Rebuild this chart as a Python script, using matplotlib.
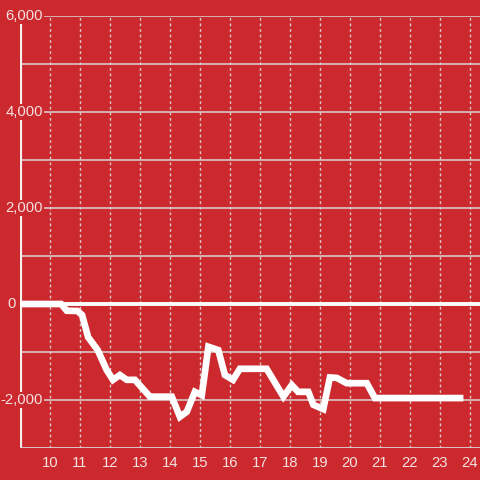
import matplotlib
matplotlib.use("Agg")
import matplotlib.pyplot as plt

# values (hour of day, running total)
hours = [9.0, 10.37, 10.56, 10.92, 11.07, 11.27, 11.59, 11.89, 12.1, 12.33,
         12.56, 12.83, 13.33, 14.06, 14.33, 14.56, 14.83, 15.06, 15.28, 15.61,
         15.83, 16.1, 16.33, 17.22, 17.78, 18.06, 18.27, 18.61, 18.78, 19.11,
         19.33, 19.56, 19.89, 20.56, 20.83, 23.67]
totals = [0, 0, -140, -146, -230, -690, -960, -1375, -1580, -1480,
          -1580, -1580, -1930, -1930, -2350, -2245, -1830, -1900, -890, -960,
          -1480, -1580, -1350, -1350, -1930, -1690, -1830, -1830, -2100, -2190,
          -1530, -1540, -1650, -1650, -1960, -1960]

y_ticks = [-2000, 0, 2000, 4000, 6000]
y_minor = [-3000, -1000, 1000, 3000, 5000]
x_ticks = list(range(10, 25))

RED = "#cc292e"
TXT = "#f3e1e1"
GRID = "#d9c8c8"

plt.rcParams["font.family"] = ["Liberation Sans", "DejaVu Sans"]

fig = plt.figure(figsize=(4.8, 4.8), dpi=100, facecolor=RED)
ax = fig.add_axes([20 / 480, 32 / 480, 460 / 480, 432 / 480], facecolor=RED)
ax.set_xlim(9.0, 9.0 + 460 / 30)
ax.set_ylim(-3000, 6000)

for s in ax.spines.values():
    s.set_visible(False)

# horizontal grid (solid), vertical grid (dotted)
for v in y_ticks + y_minor:
    if v == 0:
        continue
    ax.axhline(v, color=GRID, lw=1.2, zorder=1)
for h in x_ticks:
    ax.axvline(h, color=GRID, lw=1.0, ls=(0, (2, 2)), zorder=1)

ax.axhline(0, color="white", lw=2.8, zorder=2)
ax.axvline(9.0, color="#f5eeee", lw=3, zorder=2)
ax.axhline(-3000, color=GRID, lw=1.8, zorder=2)

ax.plot(hours, totals, color="white", lw=4.8, solid_joinstyle="miter", zorder=3)

ax.set_xticks(x_ticks)
ax.set_xticklabels([str(h) for h in x_ticks])
ax.set_yticks([])
ax.tick_params(axis="x", length=0, pad=6, colors=TXT, labelsize=10.7)

# y labels sit over the left axis line; "0" sits left of it
for v in y_ticks:
    if v == 0:
        ax.text(9.0 - 4 / 30, v, "0", ha="right", va="center",
                color=TXT, fontsize=10.7, zorder=4, clip_on=False)
        continue
    ax.text(9.0 + 23 / 30, v, f"{v:,}", ha="right", va="center",
            color=TXT, fontsize=10.7, zorder=4,
            bbox=dict(facecolor=RED, edgecolor="none", pad=0.5))

fig.savefig("out.png", dpi=100, facecolor=RED)
